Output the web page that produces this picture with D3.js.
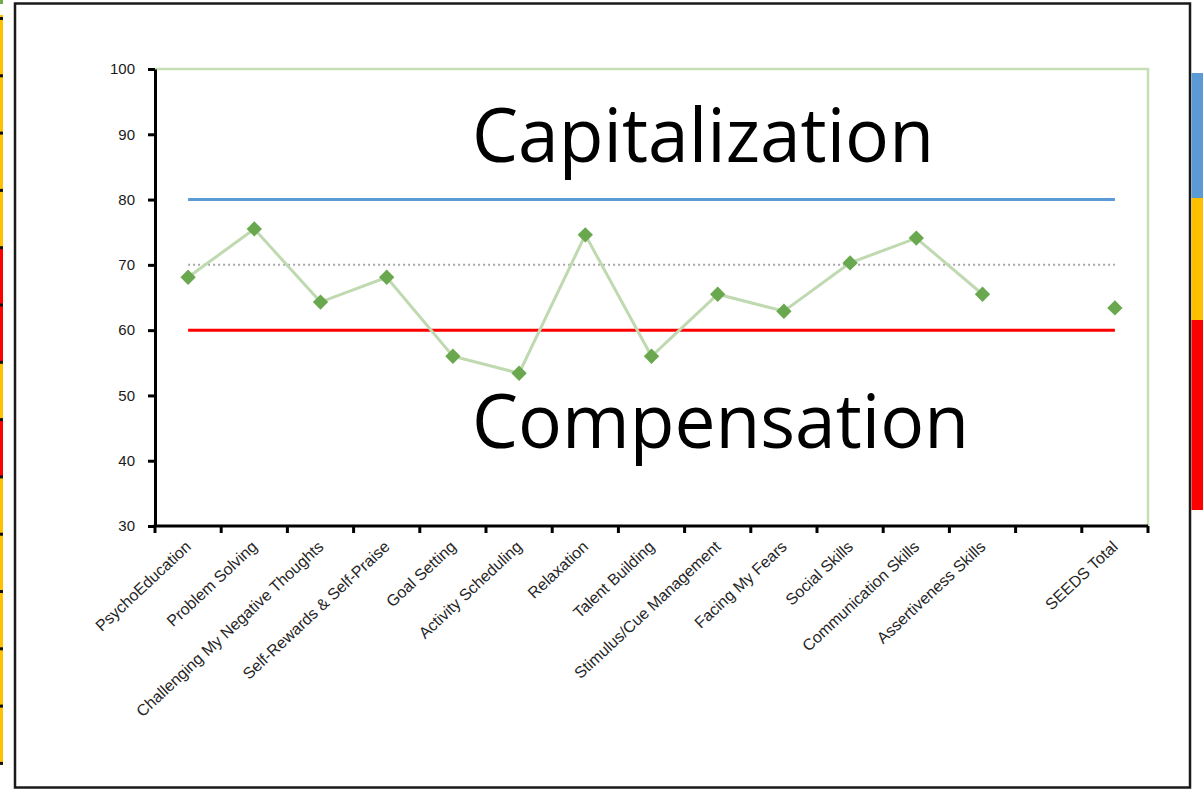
<!DOCTYPE html>
<html>
<head>
<meta charset="utf-8">
<script src="https://cdn.jsdelivr.net/npm/d3@7"></script>
<style>
  html, body { margin: 0; padding: 0; background: #ffffff; }
  svg { display: block; }
</style>
</head>
<body>
<svg id="chart" width="1203" height="790"></svg>
<script>
// SEEDS skill areas (one blank slot separates the total)
const categories = [
  "PsychoEducation", "Problem Solving", "Challenging My Negative Thoughts",
  "Self-Rewards & Self-Praise", "Goal Setting", "Activity Scheduling",
  "Relaxation", "Talent Building", "Stimulus/Cue Management",
  "Facing My Fears", "Social Skills", "Communication Skills",
  "Assertiveness Skills", "", "SEEDS Total"
];
// scores per skill area (null = no value in the blank slot)
const scores = [68.1, 75.5, 64.3, 68.1, 56.0, 53.4, 74.6, 56.0, 65.5, 62.9, 70.3, 74.1, 65.5, null, 63.4];
// reference levels
const upperLevel = 80;
const meanLevel = 70;
const lowerLevel = 60;
const yTicks = [30, 40, 50, 60, 70, 80, 90, 100];
const yDomain = [30, 100];
const zoneLabels = ["Capitalization", "Compensation"];

const svg = d3.select("#chart");

// page frame and side colour strips
svg.append("rect").attr("x", 15).attr("y", 3.5).attr("width", 1175).attr("height", 784)
  .attr("fill", "#ffffff").attr("stroke", "#1a1a1a").attr("stroke-width", 2.5);

const leftStrip = svg.append("g");
[[15, 248, "#ffc000"], [248, 362, "#ff0000"], [362, 420, "#ffc000"],
 [420, 477, "#ff0000"], [477, 765, "#ffc000"]].forEach(([a, b, c]) => {
  leftStrip.append("rect").attr("x", 0).attr("y", a).attr("width", 3).attr("height", b - a).attr("fill", c);
});
d3.range(14).forEach(i => {
  leftStrip.append("rect").attr("x", 0).attr("y", 17 + i * 57.3).attr("width", 3).attr("height", 3).attr("fill", "#111");
});
svg.append("rect").attr("x", 0).attr("y", 0).attr("width", 3).attr("height", 4).attr("fill", "#70ad47");

const rightStrip = svg.append("g");
[[73, 198, "#5b9bd5"], [198, 320, "#ffc000"], [320, 510, "#ff0000"]].forEach(([a, b, c]) => {
  rightStrip.append("rect").attr("x", 1191.5).attr("y", a).attr("width", 12).attr("height", b - a).attr("fill", c);
});

// plot area
const plotLeft = 155, plotRight = 1148, plotTop = 69, plotBottom = 526;

const x = d3.scaleBand().domain(categories).range([plotLeft, plotRight]).padding(0);
const y = d3.scaleLinear().domain(yDomain).range([plotBottom, plotTop]);
const cx = d => x(d) + x.bandwidth() / 2;

// light green plot border (top and right)
svg.append("path")
  .attr("d", `M${plotLeft},${y(yDomain[1])}H${plotRight}V${plotBottom}`)
  .attr("fill", "none").attr("stroke", "#c5e0b4").attr("stroke-width", 2.5);

// reference lines
const firstC = cx(categories[0]), lastC = cx(categories[categories.length - 1]);
svg.append("line").attr("x1", firstC).attr("x2", lastC)
  .attr("y1", y(meanLevel)).attr("y2", y(meanLevel))
  .attr("stroke", "#a6a6a6").attr("stroke-width", 2).attr("stroke-dasharray", "2,3");
svg.append("line").attr("x1", firstC).attr("x2", lastC)
  .attr("y1", y(upperLevel)).attr("y2", y(upperLevel))
  .attr("stroke", "#5b9bd5").attr("stroke-width", 3);
svg.append("line").attr("x1", firstC).attr("x2", lastC)
  .attr("y1", y(lowerLevel)).attr("y2", y(lowerLevel))
  .attr("stroke", "#ff0000").attr("stroke-width", 3);

// y axis
const yAxis = svg.append("g").attr("transform", `translate(${plotLeft},0)`)
  .call(d3.axisLeft(y).tickValues(yTicks).tickSize(7).tickSizeOuter(0).tickPadding(13));
yAxis.select(".domain").attr("stroke", "#000").attr("stroke-width", 3);
yAxis.selectAll(".tick line").attr("stroke", "#000").attr("stroke-width", 3);
yAxis.selectAll(".tick text")
  .attr("font-family", "'Liberation Sans', Arial, sans-serif")
  .attr("font-size", 15).attr("fill", "#1a1a1a");

// x axis: line, boundary ticks, rotated labels
const xAxis = svg.append("g");
xAxis.append("line").attr("x1", plotLeft - 1.5).attr("x2", plotRight).attr("y1", plotBottom).attr("y2", plotBottom)
  .attr("stroke", "#000").attr("stroke-width", 3);
const edges = categories.map(c => x(c)).concat([plotRight]);
xAxis.selectAll(".xt").data(edges).join("line").attr("class", "xt")
  .attr("x1", d => d).attr("x2", d => d).attr("y1", plotBottom).attr("y2", plotBottom + 7)
  .attr("stroke", "#000").attr("stroke-width", 3);
xAxis.selectAll(".xl").data(categories).join("text").attr("class", "xl")
  .attr("transform", d => `translate(${cx(d) + 4},${plotBottom + 22}) rotate(-43)`)
  .attr("text-anchor", "end")
  .attr("font-family", "'Liberation Sans', Arial, sans-serif")
  .attr("font-size", 16).attr("fill", "#262626")
  .text(d => d);

// score line and diamond markers
const pts = categories.map((c, i) => ({ c, v: scores[i] }));
const line = d3.line().defined(d => d.v != null).x(d => cx(d.c)).y(d => y(d.v));
svg.append("path").datum(pts.slice(0, 13))
  .attr("d", line).attr("fill", "none")
  .attr("stroke", "#bfd9b0").attr("stroke-width", 3);
svg.selectAll(".mk").data(pts.filter(d => d.v != null)).join("path").attr("class", "mk")
  .attr("d", d3.symbol(d3.symbolDiamond2, 150)())
  .attr("transform", d => `translate(${cx(d.c)},${y(d.v)})`)
  .attr("fill", "#6aa84f");

// zone captions
svg.append("text").attr("x", 472).attr("y", 162)
  .attr("font-family", "'Open Sans', sans-serif").attr("font-size", 75)
  .attr("textLength", 462).attr("lengthAdjust", "spacingAndGlyphs")
  .attr("fill", "#000").text(zoneLabels[0]);
svg.append("text").attr("x", 472).attr("y", 448)
  .attr("font-family", "'Open Sans', sans-serif").attr("font-size", 75)
  .attr("textLength", 497).attr("lengthAdjust", "spacingAndGlyphs")
  .attr("fill", "#000").text(zoneLabels[1]);
</script>
</body>
</html>
